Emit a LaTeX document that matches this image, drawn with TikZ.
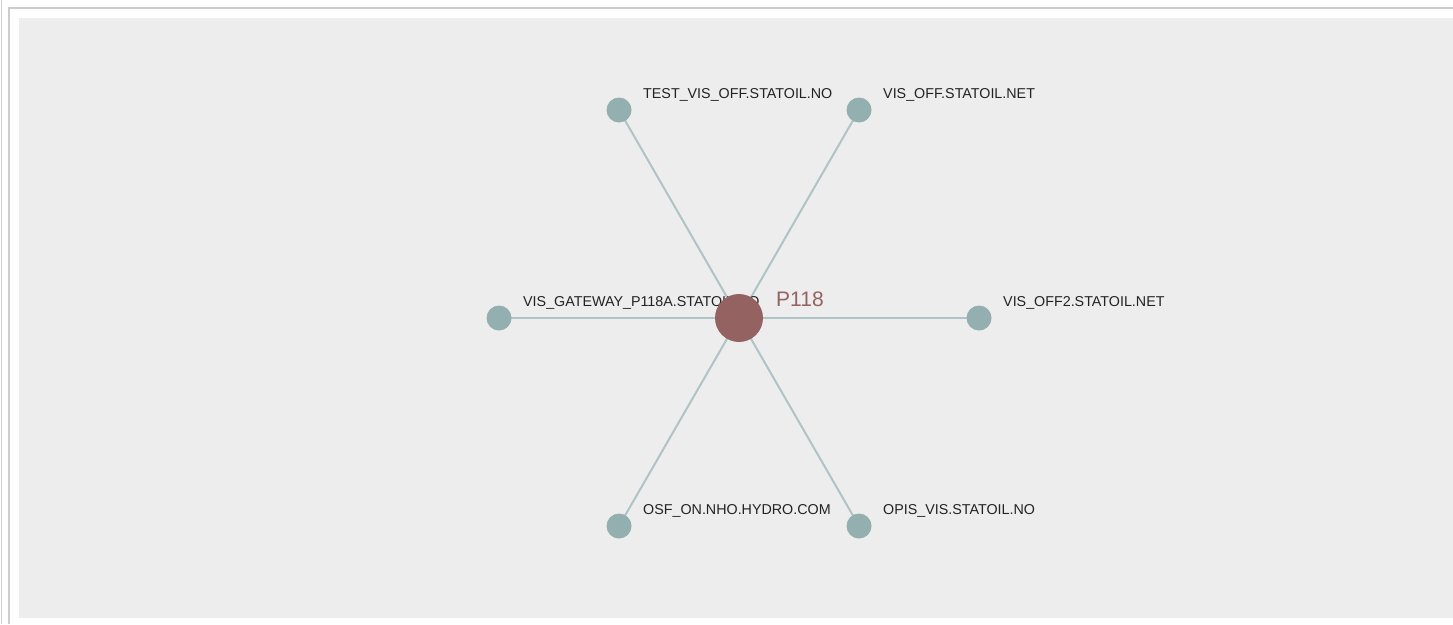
\documentclass[tikz,border=0pt]{standalone}
\usepackage{fontspec}
\setmainfont{Liberation Sans}
\definecolor{panel}{HTML}{EDEDED}
\definecolor{frame}{HTML}{CCCCCC}
\definecolor{leaf}{HTML}{93AFAF}
\definecolor{edgec}{HTML}{AFC4C4}
\definecolor{hub}{HTML}{956262}
\definecolor{txt}{HTML}{222222}
\tikzset{
  leafnode/.style={circle, fill=leaf, minimum size=25pt, inner sep=0pt},
  hubnode/.style={circle, fill=hub, minimum size=48pt, inner sep=0pt},
  lbl/.style={anchor=base west, inner sep=0pt, text=txt, font=\fontsize{14.3pt}{16pt}\selectfont},
  hublbl/.style={anchor=base west, inner sep=0pt, text=hub, font=\fontsize{21pt}{24pt}\selectfont},
  link/.style={draw=edgec, line width=2pt},
  framel/.style={draw=frame, line width=1.6pt}
}
\begin{document}
\begin{tikzpicture}[x=1pt,y=-1pt]
\useasboundingbox (0,0) rectangle (1453,624);
\fill[white] (0,0) rectangle (1453,624);
\draw[framel] (1.5,0) -- (1.5,624);
\draw[framel] (8.8,624) -- (8.8,7.8) -- (1453,7.8);
\fill[panel] (19,18) rectangle (1453,618);
% nodes (coordinates)
\coordinate (c) at (739,318);
\coordinate (a1) at (619,110);
\coordinate (a2) at (859,110);
\coordinate (a3) at (499,318);
\coordinate (a4) at (979,318);
\coordinate (a5) at (619,526);
\coordinate (a6) at (859,526);
% edges
\foreach \n in {a1,a2,a3,a4,a5,a6} \draw[link] (c) -- (\n);
% leaf nodes
\node[leafnode] (n1) at (a1) {};
\node[leafnode] (n2) at (a2) {};
\node[leafnode] (n3) at (a3) {};
\node[leafnode] (n4) at (a4) {};
\node[leafnode] (n5) at (a5) {};
\node[leafnode] (n6) at (a6) {};
% labels
\node[lbl] (l1) at ([xshift=24pt,yshift=11.5pt]a1) {TEST\_VIS\_OFF.STATOIL.NO};
\node[lbl] (l2) at ([xshift=24pt,yshift=11.5pt]a2) {VIS\_OFF.STATOIL.NET};
\node[lbl] (l3) at ([xshift=24pt,yshift=11.5pt]a3) {VIS\_GATEWAY\_P118A.STATOIL.NO};
\node[lbl] (l4) at ([xshift=24pt,yshift=11.5pt]a4) {VIS\_OFF2.STATOIL.NET};
\node[lbl] (l5) at ([xshift=24pt,yshift=11.5pt]a5) {OSF\_ON.NHO.HYDRO.COM};
\node[lbl] (l6) at ([xshift=24pt,yshift=11.5pt]a6) {OPIS\_VIS.STATOIL.NO};
% hub
\node[hubnode] (hub) at (c) {};
\node[hublbl] (hl) at (776,306.5) {P118};
\end{tikzpicture}
\end{document}
